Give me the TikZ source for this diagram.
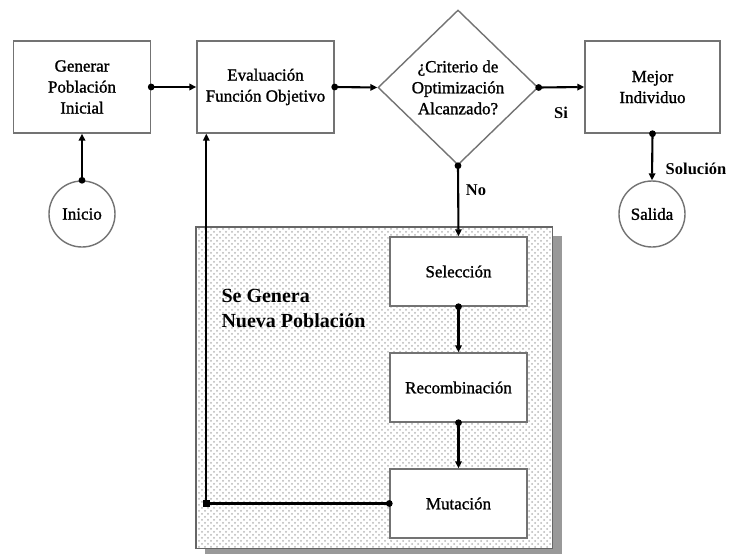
\documentclass[tikz,border=0pt]{standalone}
\usepackage{fontspec}
\setmainfont{Liberation Serif}
\newfontfamily\boxfont[FakeBold=1.2]{Liberation Serif}
\usetikzlibrary{shapes.geometric,arrows.meta,patterns,calc}

% light dotted fill for the population block
\pgfdeclarepatternformonly{finedots}{\pgfqpoint{-1pt}{-1pt}}{\pgfqpoint{7pt}{7pt}}{\pgfqpoint{6pt}{6pt}}{%
  \pgfpathcircle{\pgfqpoint{1pt}{1pt}}{1pt}%
  \pgfpathcircle{\pgfqpoint{4pt}{4pt}}{1pt}%
  \pgfusepath{fill}}

\tikzset{
  txt/.style={font=\boxfont\fontsize{17}{21}\selectfont, align=center},
  procbox/.style={txt, draw=black!55, line width=1.4pt, fill=white, rectangle, inner sep=0pt},
  bigbox/.style={procbox, minimum width=137pt, minimum height=92pt},
  smallbox/.style={procbox, minimum width=137pt, minimum height=69pt},
  endpoint/.style={txt, draw=black!55, line width=1.4pt, fill=white, circle, minimum size=66pt, inner sep=0pt},
  decision/.style={txt, draw=black!55, line width=1.4pt, fill=white, diamond, minimum width=160pt, minimum height=155pt, inner sep=0pt},
  link/.style={draw=black, line width=2.1pt, -{Triangle[length=7pt,width=6.5pt]}},
  lbl/.style={font=\fontsize{16.5}{20}\selectfont\bfseries},
}

\newcommand{\jointdot}[1]{\fill[black] (#1) circle (3.4pt);}

\begin{document}
\begin{tikzpicture}[x=1pt,y=-1pt]
\useasboundingbox[fill=white] (0,0) rectangle (729,554);

% population block with drop shadow
\fill[black!40] (205,236) rectangle (562,556);
\node[fill=white, rectangle, minimum width=356pt, minimum height=321pt, inner sep=0pt, anchor=north west] (pop) at (196,227) {};
\fill[pattern=finedots, pattern color=black!28] (pop.north west) rectangle (pop.south east);
\draw[black!60, line width=1.6pt] (pop.north west) rectangle (pop.south east);
\node[font=\fontsize{20}{25}\selectfont\bfseries, align=left, anchor=north west] (poptitle) at (218,286) {Se Genera\\Nueva Población};

% main row
\node[bigbox] (gen) at (82,87) {Generar\\Población\\Inicial};
\node[bigbox] (eval) at (265.5,87) {Evaluación\\Función Objetivo};
\node[decision] (crit) at (458,87.5) {¿Criterio de\\Optimización\\Alcanzado?};
\node[bigbox, minimum width=135pt] (best) at (652.5,87) {Mejor\\Individuo};

% terminals
\node[endpoint] (start) at (82,214) {Inicio};
\node[endpoint] (out) at (652,214) {Salida};

% genetic operators
\node[smallbox] (sel) at (458.5,271.5) {Selección};
\node[smallbox] (rec) at (458.5,387.5) {Recombinación};
\node[smallbox] (mut) at (458.5,503.5) {Mutación};

% connectors
\draw[link] (start.north) -- (gen.south); \jointdot{start.north}
\draw[link] (gen.east) -- (eval.west); \jointdot{gen.east}
\draw[link] (eval.east) -- (crit.west); \jointdot{eval.east}
\draw[link] (crit.east) -- (best.west); \jointdot{crit.east}
\draw[link] (best.south) -- (out.north); \jointdot{best.south}
\draw[link] (crit.south) -- (sel.north); \jointdot{crit.south}
\draw[link] (sel.south) -- (rec.north); \jointdot{sel.south}
\draw[link] (rec.south) -- (mut.north); \jointdot{rec.south}

\coordinate (back) at ($(eval.south west)+(10,0)$);
\coordinate (corner) at (back |- mut.west);
\draw[link] (mut.west) -- (corner) -- (back); \jointdot{mut.west}
\fill[black] ($(corner)+(-3.8,-3.8)$) rectangle ($(corner)+(3.8,3.8)$);

% labels
\node[lbl] (yes) at (561,113) {Si};
\node[lbl] (no) at (476,190) {No};
\node[lbl] (sol) at (696,169) {Solución};
\end{tikzpicture}
\end{document}
